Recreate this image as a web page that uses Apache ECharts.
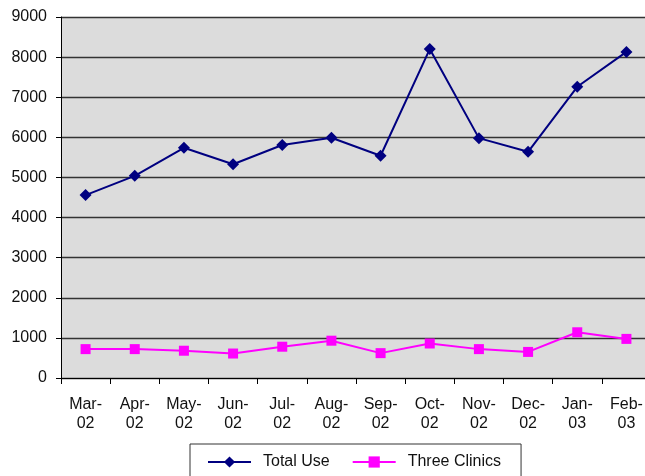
<!DOCTYPE html>
<html>
<head>
<meta charset="utf-8">
<script src="https://cdn.jsdelivr.net/npm/echarts@6/dist/echarts.min.js"></script>
<style>
  html, body { margin: 0; padding: 0; background: #fff; }
  #chart { width: 645px; height: 476px; }
</style>
</head>
<body>
<div id="chart"></div>
<script>
// month labels, two lines each
var months = ['Mar-\n02', 'Apr-\n02', 'May-\n02', 'Jun-\n02', 'Jul-\n02', 'Aug-\n02',
              'Sep-\n02', 'Oct-\n02', 'Nov-\n02', 'Dec-\n02', 'Jan-\n03', 'Feb-\n03'];
var totalUse = [4560, 5040, 5740, 5330, 5810, 5990, 5540, 8200, 5980, 5640, 7260, 8130];
var threeClinics = [720, 720, 680, 610, 780, 930, 620, 860, 720, 650, 1140, 975];

var chartDom = document.getElementById('chart');
var myChart = echarts.init(chartDom);

var font = 'Liberation Sans, Arial, sans-serif';

var option = {
  animation: false,
  grid: {
    left: 61,
    width: 590,
    top: 17,
    bottom: 98,
    outerBoundsMode: 'none',
    show: true,
    backgroundColor: '#dcdcdc',
    borderWidth: 0
  },
  legend: {
    left: 190,
    top: 444,
    padding: [10, 20, 20, 17],
    borderColor: '#333',
    borderWidth: 1,
    itemWidth: 43,
    itemHeight: 14,
    itemGap: 22,
    textStyle: { fontFamily: font, fontSize: 16, color: '#111', padding: [0, 0, 0, 7] },
    data: ['Total Use', 'Three Clinics']
  },
  xAxis: {
    type: 'category',
    data: months,
    boundaryGap: true,
    axisLine: { lineStyle: { color: '#000', width: 1 } },
    axisTick: { show: true, length: 6, lineStyle: { color: '#000' } },
    axisLabel: { fontFamily: font, fontSize: 16, color: '#111', lineHeight: 19, margin: 17 },
    splitLine: { show: false }
  },
  yAxis: {
    type: 'value',
    min: 0,
    max: 9000,
    interval: 1000,
    axisLine: { show: true, lineStyle: { color: '#000', width: 1 } },
    axisTick: { show: true, length: 5, lineStyle: { color: '#000' } },
    axisLabel: {
      fontFamily: font, fontSize: 16, color: '#111', margin: 14,
      formatter: function (v) { return String(v); }
    },
    splitLine: { lineStyle: { color: '#333', width: 1.3 } }
  },
  series: [
    {
      name: 'Total Use',
      type: 'line',
      data: totalUse,
      symbol: 'diamond',
      symbolSize: 12,
      itemStyle: { color: '#000080' },
      lineStyle: { color: '#000080', width: 2 }
    },
    {
      name: 'Three Clinics',
      type: 'line',
      data: threeClinics,
      symbol: 'rect',
      symbolSize: 10,
      itemStyle: { color: '#ff00ff' },
      lineStyle: { color: '#ff00ff', width: 2 }
    }
  ]
};

option && myChart.setOption(option);
</script>
</body>
</html>
